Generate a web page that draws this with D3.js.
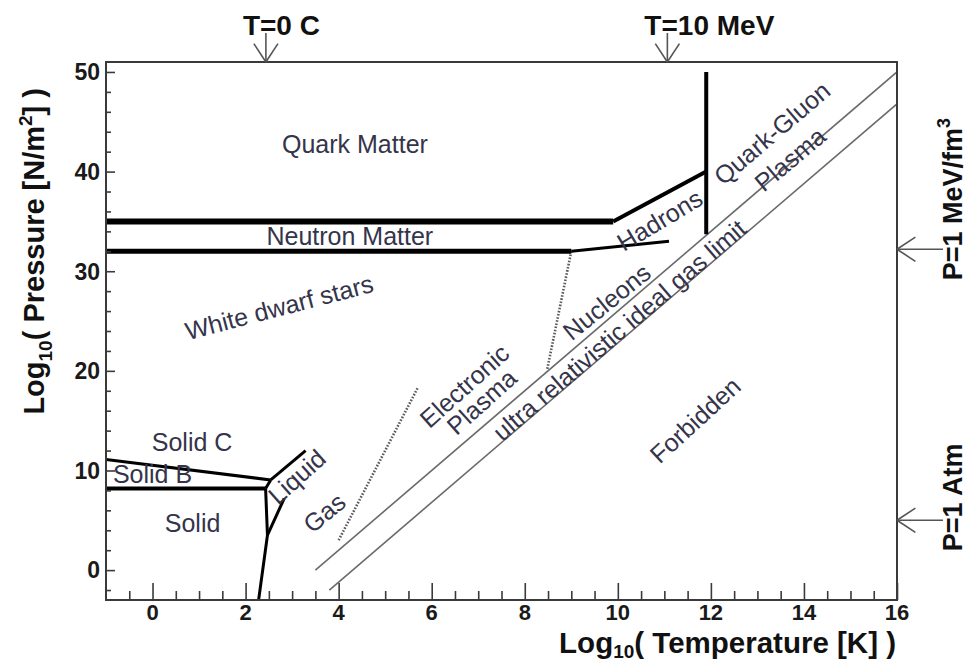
<!DOCTYPE html>
<html>
<head>
<meta charset="utf-8">
<script src="https://cdn.jsdelivr.net/npm/d3@7"></script>
<style>
  html, body { margin: 0; padding: 0; background: #fff; }
  svg { display: block; font-family: "Liberation Sans", Arial, Helvetica, sans-serif; }
</style>
</head>
<body>
<svg id="chart" width="968" height="664"></svg>
<script>
// Phase diagram of matter: log10 pressure versus log10 temperature.

// Axis extents and tick values
const xDomain = [-1, 16];
const yDomain = [-3, 51];
const xMajorTicks = [0, 2, 4, 6, 8, 10, 12, 14, 16];
const yMajorTicks = [0, 10, 20, 30, 40, 50];

// Phase boundaries, as [log10 T, log10 P] points
const quarkNeutronBoundary = [[-1, 35], [9.9, 35]];
const hadronQuarkBoundary  = [[9.9, 35], [11.9, 40]];
const neutronBoundary      = [[-1, 32], [9.0, 32]];
const nucleonHadronLine    = [[9.0, 32], [11.1, 33]];
const deconfinementLine    = [[11.9, 50], [11.9, 33.7]];
const nucleonPlasmaDotted  = [[9.0, 32], [8.48, 20.1]];
const gasPlasmaDotted      = [[4.0, 3.0], [5.7, 18.3]];
const idealGasUpper        = [[3.5, 0], [16, 50]];
const idealGasLower        = [[3.8, -2], [16, 46.8]];
const solidBoundary        = [[-1, 8.2], [2.43, 8.2]];
const solidBCBoundary      = [[-1, 11.1], [2.54, 9.05]];
const triplePointLink      = [[2.43, 8.2], [2.54, 9.05]];
const liquidUpperBoundary  = [[2.54, 9.05], [3.29, 12.0]];
const meltingLine          = [[2.43, 8.2], [2.47, 3.5], [2.28, -3]];
const liquidGasBranch      = [[2.47, 3.5], [2.83, 7.2]];

// Reference markers: T = 0 C, T = 10 MeV, P = 1 MeV/fm^3, P = 1 atm
const tempMarkers = [{ label: "T=0 C", x: Math.log10(273.15) }, { label: "T=10 MeV", x: Math.log10(1.1605e11) }];
const pressMarkers = [
  { main: "P=1 MeV/fm", sup: "3", y: Math.log10(1.602e32) },
  { main: "P=1 Atm", sup: "", y: Math.log10(101325) }
];

// Region names at [log10 T, log10 P] with text angle in degrees
const regionLabels = [
  { text: "Quark Matter", x: 4.35, y: 42.8, a: 0 },
  { text: "Neutron Matter", x: 4.24, y: 33.5, a: 0 },
  { text: "White dwarf stars", x: 2.72, y: 26.4, a: -14.6 },
  { text: "Solid C", x: 0.85, y: 12.86, a: 0 },
  { text: "Solid B", x: 0.0, y: 9.65, a: 0 },
  { text: "Solid", x: 0.86, y: 4.73, a: 0 },
  { text: "Liquid", x: 3.10, y: 9.38, a: -42 },
  { text: "Gas", x: 3.69, y: 5.76, a: -40 },
  { text: "Electronic", x: 6.7, y: 18.5, a: -42 },
  { text: "Plasma", x: 7.07, y: 16.9, a: -42 },
  { text: "Nucleons", x: 9.76, y: 26.94, a: -39 },
  { text: "ultra relativistic ideal gas limit", x: 10.03, y: 24.1, a: -40.6 },
  { text: "Hadrons", x: 10.9, y: 35.14, a: -31 },
  { text: "Quark-Gluon", x: 13.31, y: 43.87, a: -40.4 },
  { text: "Plasma", x: 13.7, y: 41.26, a: -40 },
  { text: "Forbidden", x: 11.66, y: 15.07, a: -42.6 }
];

const svg = d3.select("#chart");
const frame = { left: 106, right: 897, top: 62, bottom: 600 };

const x = d3.scaleLinear().domain(xDomain).range([frame.left, frame.right]);
const y = d3.scaleLinear().domain(yDomain).range([frame.bottom, frame.top]);
const line = d3.line().x(d => x(d[0])).y(d => y(d[1]));

const frameColor = "#3a3a3a";
const labelColor = "#34344a";

// Plot area clip
svg.append("clipPath").attr("id", "plotClip")
  .append("rect")
  .attr("x", frame.left).attr("y", frame.top)
  .attr("width", frame.right - frame.left).attr("height", frame.bottom - frame.top);

const plot = svg.append("g").attr("clip-path", "url(#plotClip)");

// Ideal-gas limit lines
[idealGasUpper, idealGasLower].forEach(pts => {
  plot.append("path").attr("d", line(pts))
    .attr("fill", "none").attr("stroke", "#6a6a6a").attr("stroke-width", 1.6);
});

// Dotted crossover lines
[nucleonPlasmaDotted, gasPlasmaDotted].forEach(pts => {
  plot.append("path").attr("d", line(pts))
    .attr("fill", "none").attr("stroke", "#5a5a5a").attr("stroke-width", 2.6)
    .attr("stroke-dasharray", "1.6,1.6");
});

// Phase boundary lines
const boundaries = [
  [quarkNeutronBoundary, 6],
  [hadronQuarkBoundary, 4],
  [neutronBoundary, 5],
  [nucleonHadronLine, 3],
  [deconfinementLine, 4],
  [solidBoundary, 4],
  [solidBCBoundary, 3],
  [triplePointLink, 3],
  [liquidUpperBoundary, 3],
  [meltingLine, 3],
  [liquidGasBranch, 3]
];
boundaries.forEach(([pts, w]) => {
  plot.append("path").attr("d", line(pts))
    .attr("fill", "none").attr("stroke", "#000").attr("stroke-width", w)
    .attr("stroke-linejoin", "miter");
});

// Region names
svg.append("g").selectAll("text").data(regionLabels).join("text")
  .attr("transform", d => `translate(${x(d.x)},${y(d.y)}) rotate(${d.a})`)
  .attr("text-anchor", "middle")
  .attr("dy", "0.36em")
  .attr("font-size", 25)
  .attr("fill", labelColor)
  .text(d => d.text);

// Axes: ticks inside the frame on the left and bottom
const xAxis = d3.axisBottom(x)
  .tickValues(d3.range(-0.5, 16.01, 0.5))
  .tickSize(-9).tickFormat("");
const xAxisG = svg.append("g").attr("transform", `translate(0,${frame.bottom})`).call(xAxis);
xAxisG.selectAll(".tick line")
  .attr("y2", d => xMajorTicks.includes(d) ? -17 : -9)
  .attr("stroke", frameColor).attr("stroke-width", 1.6);
xAxisG.select(".domain").remove();

const yAxis = d3.axisLeft(y)
  .tickValues(d3.range(-2, 50.01, 2))
  .tickSize(-5).tickFormat("");
const yAxisG = svg.append("g").attr("transform", `translate(${frame.left},0)`).call(yAxis);
yAxisG.selectAll(".tick line")
  .attr("x2", d => yMajorTicks.includes(d) ? 9 : 5)
  .attr("stroke", frameColor).attr("stroke-width", 1.6);
yAxisG.select(".domain").remove();

// Tick labels
svg.append("g").selectAll("text").data(xMajorTicks).join("text")
  .attr("x", d => x(d)).attr("y", 620)
  .attr("text-anchor", "middle")
  .attr("font-size", 22).attr("font-weight", "bold").attr("fill", "#1a1a1a")
  .text(d => d);

svg.append("g").selectAll("text").data(yMajorTicks).join("text")
  .attr("x", 100).attr("y", d => y(d)).attr("dy", "0.36em")
  .attr("text-anchor", "end")
  .attr("font-size", 23).attr("font-weight", "bold").attr("fill", "#1a1a1a")
  .text(d => d);

// Frame
svg.append("rect")
  .attr("x", frame.left).attr("y", frame.top)
  .attr("width", frame.right - frame.left).attr("height", frame.bottom - frame.top)
  .attr("fill", "none").attr("stroke", frameColor).attr("stroke-width", 2);

// Axis titles
const xTitle = svg.append("text")
  .attr("x", 896).attr("y", 653)
  .attr("text-anchor", "end")
  .attr("font-size", 29.5).attr("font-weight", "bold").attr("fill", "#111");
xTitle.append("tspan").text("Log");
xTitle.append("tspan").attr("font-size", 19).attr("dy", 5).text("10");
xTitle.append("tspan").attr("dy", -5).text("( Temperature [K] )");

const yTitle = svg.append("text")
  .attr("transform", "translate(44,88) rotate(-90)")
  .attr("text-anchor", "end")
  .attr("font-size", 29).attr("font-weight", "bold").attr("fill", "#111");
yTitle.append("tspan").text("Log");
yTitle.append("tspan").attr("font-size", 19).attr("dy", 8).text("10");
yTitle.append("tspan").attr("dy", -8).text("( Pressure [N/m");
yTitle.append("tspan").attr("font-size", 19).attr("dy", -12).text("2");
yTitle.append("tspan").attr("dy", 12).text("] )");

// Open arrowhead helper
const arrowColor = "#555";
function arrow(x1, y1, x2, y2) {
  const g = svg.append("g").attr("stroke", arrowColor).attr("stroke-width", 1.6).attr("fill", "none");
  g.append("line").attr("x1", x1).attr("y1", y1).attr("x2", x2).attr("y2", y2);
  const ang = Math.atan2(y2 - y1, x2 - x1);
  const len = 22, spread = 0.58;
  [ang + Math.PI - spread, ang + Math.PI + spread].forEach(a => {
    g.append("line").attr("x1", x2).attr("y1", y2)
      .attr("x2", x2 + len * Math.cos(a)).attr("y2", y2 + len * Math.sin(a));
  });
}

// Temperature markers along the top
tempMarkers.forEach(m => {
  const px = x(m.x);
  arrow(px, 33, px, frame.top);
  svg.append("text")
    .attr("x", px - 23).attr("y", 35)
    .attr("font-size", 28).attr("font-weight", "bold").attr("fill", "#111")
    .text(m.label);
});

// Pressure markers along the right side
pressMarkers.forEach(m => {
  const py = y(m.y);
  arrow(943, py, frame.right, py);
  const t = svg.append("text")
    .attr("transform", `translate(962,${py + 31}) rotate(-90)`)
    .attr("font-size", 27).attr("font-weight", "bold").attr("fill", "#111");
  t.append("tspan").text(m.main);
  if (m.sup) t.append("tspan").attr("font-size", 18).attr("dy", -12).text(m.sup);
});
</script>
</body>
</html>
